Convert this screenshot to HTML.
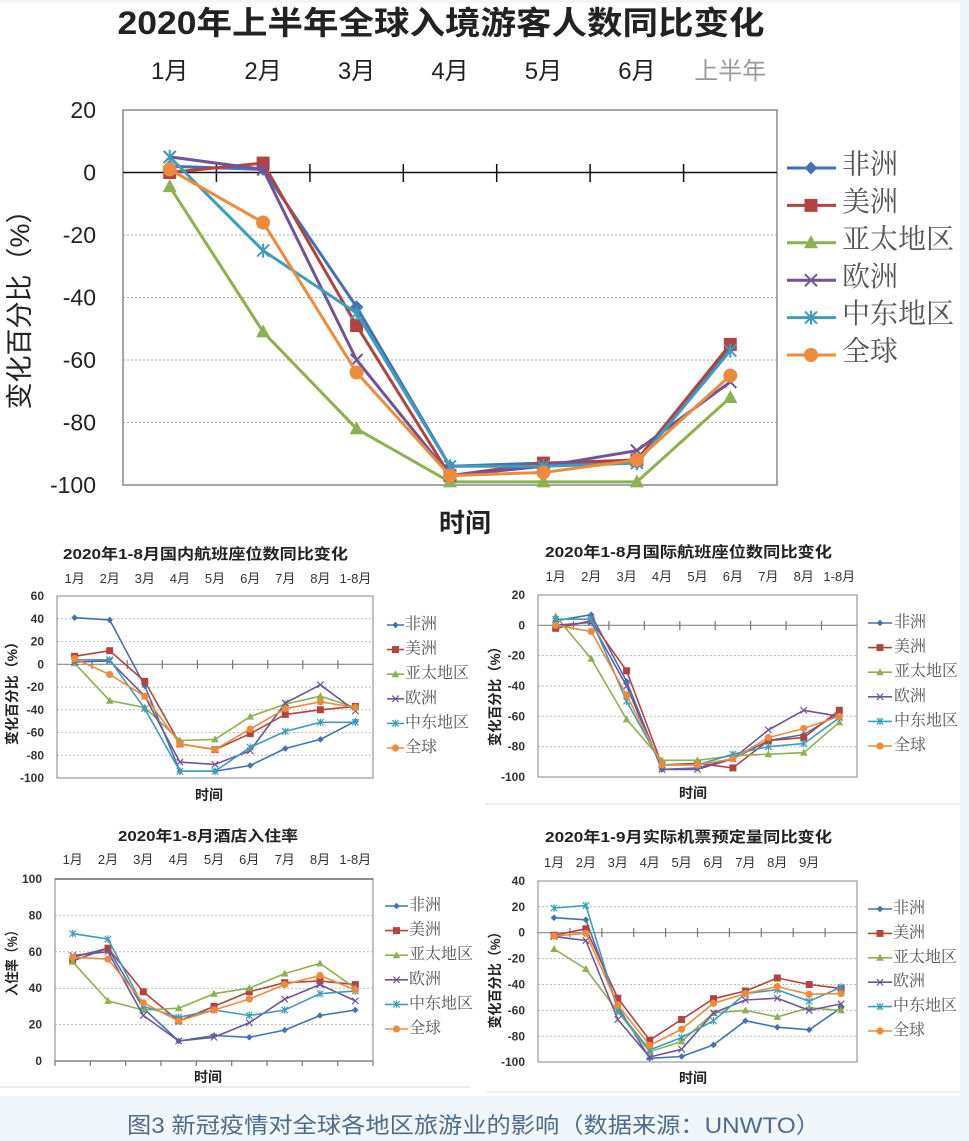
<!DOCTYPE html>
<html><head><meta charset="utf-8">
<style>
html,body{margin:0;padding:0;background:#f1f6fa;}
body{width:969px;height:1141px;overflow:hidden;position:relative;}
svg{position:absolute;left:0;top:0;}
.t{font-family:"Liberation Sans","Noto Sans CJK SC",sans-serif;fill:#222;}
.b{font-weight:bold;}
.sr{font-family:"Liberation Serif","Noto Serif CJK SC",serif;fill:#555;}
.L{fill:none;stroke-width:3;stroke-linejoin:round;}
.l{fill:none;stroke-width:1.6;stroke-linejoin:round;}
.c1{stroke:#4472b0}.c2{stroke:#b3433f}.c3{stroke:#8db050}.c4{stroke:#6f5598}.c5{stroke:#3f9cbd}.c6{stroke:#ec8b3c}
.B1{marker:url(#mb1)}.B2{marker:url(#mb2)}.B3{marker:url(#mb3)}.B4{marker:url(#mb4)}.B5{marker:url(#mb5)}.B6{marker:url(#mb6)}
.S1{marker:url(#ms1)}.S2{marker:url(#ms2)}.S3{marker:url(#ms3)}.S4{marker:url(#ms4)}.S5{marker:url(#ms5)}.S6{marker:url(#ms6)}
.g{stroke:#aaa;stroke-width:1;stroke-dasharray:2 2;}
.gs{stroke:#bbb;stroke-width:1;stroke-dasharray:2 2;}
.box{fill:none;stroke:#8a8a8a;stroke-width:1.5;}
.bx{fill:none;stroke:#999;stroke-width:1.2;}
.yl{font-family:"Liberation Sans",sans-serif;font-size:12px;font-weight:bold;fill:#333;text-anchor:end;}
.ml{font-family:"Liberation Sans","Noto Sans CJK SC",sans-serif;font-size:13px;fill:#333;text-anchor:middle;}
</style></head>
<body>
<svg width="969" height="1141" viewBox="0 0 969 1141" xmlns="http://www.w3.org/2000/svg">
<defs>
<marker id="mb1" markerUnits="userSpaceOnUse" markerWidth="20" markerHeight="20" viewBox="-10 -10 20 20" refX="0" refY="0" style="overflow:visible"><path d="M0 -6.5L6.5 0L0 6.5L-6.5 0Z" fill="#4472b0"/></marker>
<marker id="mb2" markerUnits="userSpaceOnUse" markerWidth="20" markerHeight="20" viewBox="-10 -10 20 20" refX="0" refY="0" style="overflow:visible"><rect x="-6.5" y="-6.5" width="13" height="13" fill="#b3433f"/></marker>
<marker id="mb3" markerUnits="userSpaceOnUse" markerWidth="20" markerHeight="20" viewBox="-10 -10 20 20" refX="0" refY="0" style="overflow:visible"><path d="M0 -7.5L7 5.5L-7 5.5Z" fill="#8db050"/></marker>
<marker id="mb4" markerUnits="userSpaceOnUse" markerWidth="20" markerHeight="20" viewBox="-10 -10 20 20" refX="0" refY="0" style="overflow:visible"><path d="M-6 -6L6 6M-6 6L6 -6" stroke="#6f5598" stroke-width="2"/></marker>
<marker id="mb5" markerUnits="userSpaceOnUse" markerWidth="20" markerHeight="20" viewBox="-10 -10 20 20" refX="0" refY="0" style="overflow:visible"><path d="M-6 -6L6 6M-6 6L6 -6M0 -7L0 7" stroke="#3f9cbd" stroke-width="2"/></marker>
<marker id="mb6" markerUnits="userSpaceOnUse" markerWidth="20" markerHeight="20" viewBox="-10 -10 20 20" refX="0" refY="0" style="overflow:visible"><circle r="7" fill="#ec8b3c"/></marker>
<marker id="ms1" markerUnits="userSpaceOnUse" markerWidth="10" markerHeight="10" viewBox="-5 -5 10 10" refX="0" refY="0" style="overflow:visible"><path d="M0 -3.3L3.3 0L0 3.3L-3.3 0Z" fill="#4472b0"/></marker>
<marker id="ms2" markerUnits="userSpaceOnUse" markerWidth="10" markerHeight="10" viewBox="-5 -5 10 10" refX="0" refY="0" style="overflow:visible"><rect x="-3.5" y="-3.5" width="7" height="7" fill="#b3433f"/></marker>
<marker id="ms3" markerUnits="userSpaceOnUse" markerWidth="10" markerHeight="10" viewBox="-5 -5 10 10" refX="0" refY="0" style="overflow:visible"><path d="M0 -4L3.8 3L-3.8 3Z" fill="#8db050"/></marker>
<marker id="ms4" markerUnits="userSpaceOnUse" markerWidth="10" markerHeight="10" viewBox="-5 -5 10 10" refX="0" refY="0" style="overflow:visible"><path d="M-3.2 -3.2L3.2 3.2M-3.2 3.2L3.2 -3.2" stroke="#6f5598" stroke-width="1.2"/></marker>
<marker id="ms5" markerUnits="userSpaceOnUse" markerWidth="10" markerHeight="10" viewBox="-5 -5 10 10" refX="0" refY="0" style="overflow:visible"><path d="M-3.2 -3.2L3.2 3.2M-3.2 3.2L3.2 -3.2M0 -3.8L0 3.8" stroke="#3f9cbd" stroke-width="1.2"/></marker>
<marker id="ms6" markerUnits="userSpaceOnUse" markerWidth="10" markerHeight="10" viewBox="-5 -5 10 10" refX="0" refY="0" style="overflow:visible"><circle r="3.6" fill="#ec8b3c"/></marker>
</defs>

<!-- backgrounds -->
<rect x="0" y="0" width="969" height="1141" fill="#f1f6fa"/>
<rect x="0" y="3" width="960" height="1093" fill="#ffffff"/>
<line x1="485" y1="804" x2="960" y2="804" stroke="#e6e6e6" stroke-width="1.5"/>
<line x1="0" y1="1087" x2="470" y2="1087" stroke="#e6e6e6" stroke-width="1.5"/>
<line x1="487" y1="1092" x2="960" y2="1092" stroke="#e6e6e6" stroke-width="1.5"/>

<!-- ===== TOP CHART ===== -->
<text class="t b" x="441" y="34" font-size="32" text-anchor="middle" textLength="647" lengthAdjust="spacingAndGlyphs">2020年上半年全球入境游客人数同比变化</text>
<g class="t" font-size="24" text-anchor="middle" fill="#222">
<text x="169.7" y="79">1月</text><text x="263.1" y="79">2月</text><text x="356.6" y="79">3月</text><text x="450" y="79">4月</text><text x="543.4" y="79">5月</text><text x="636.9" y="79">6月</text><text x="730.3" y="79" style="fill:#9a9a9a">上半年</text>
</g>
<line class="g" x1="123" y1="235" x2="777" y2="235"/>
<line class="g" x1="123" y1="297.5" x2="777" y2="297.5"/>
<line class="g" x1="123" y1="360" x2="777" y2="360"/>
<line class="g" x1="123" y1="422.5" x2="777" y2="422.5"/>
<rect class="box" x="123" y="110" width="654" height="375"/>
<line x1="123" y1="172.5" x2="777" y2="172.5" stroke="#111" stroke-width="1.5"/>
<path d="M216.4 164V182M309.9 164V182M403.3 164V182M496.7 164V182M590.1 164V182M683.6 164V182" stroke="#111" stroke-width="1.5"/>
<g font-family="Liberation Sans,sans-serif" font-size="23" fill="#222" text-anchor="end">
<text x="96" y="118">20</text><text x="96" y="180.5">0</text><text x="96" y="243">-20</text><text x="96" y="305.5">-40</text><text x="96" y="368">-60</text><text x="96" y="430.5">-80</text><text x="96" y="493">-100</text>
</g>
<text class="t" x="20" y="303" font-size="27" text-anchor="middle" transform="rotate(-90 20 303)" dy="9" textLength="213" lengthAdjust="spacingAndGlyphs">变化百分比（%）</text>
<text class="t b" x="465" y="532" font-size="26" text-anchor="middle">时间</text>

<polyline class="L c1 B1" points="169.7,166.3 263.1,169.4 356.6,306.9 450,466.3 543.4,463.1 636.9,463.1 730.3,347.5"/>
<polyline class="L c2 B2" points="169.7,172.5 263.1,163.1 356.6,325.6 450,475.6 543.4,463.1 636.9,460 730.3,344.4"/>
<polyline class="L c3 B3" points="169.7,186.6 263.1,331.9 356.6,428.8 450,481.9 543.4,481.9 636.9,481.9 730.3,397.5"/>
<polyline class="L c4 B4" points="169.7,156.9 263.1,169.4 356.6,360 450,475.6 543.4,466.3 636.9,450.6 730.3,381.9"/>
<polyline class="L c5 B5" points="169.7,156.9 263.1,250.6 356.6,313.1 450,466.3 543.4,466.3 636.9,463.1 730.3,350.6"/>
<polyline class="L c6 B6" points="169.7,169.4 263.1,222.5 356.6,372.5 450,475.6 543.4,472.5 636.9,460 730.3,375.6"/>

<polyline class="L c1" style="marker-mid:url(#mb1)" points="787,168 811,168 836,168"/>
<polyline class="L c2" style="marker-mid:url(#mb2)" points="787,205.4 811,205.4 836,205.4"/>
<polyline class="L c3" style="marker-mid:url(#mb3)" points="787,242.8 811,242.8 836,242.8"/>
<polyline class="L c4" style="marker-mid:url(#mb4)" points="787,280.2 811,280.2 836,280.2"/>
<polyline class="L c5" style="marker-mid:url(#mb5)" points="787,317.6 811,317.6 836,317.6"/>
<polyline class="L c6" style="marker-mid:url(#mb6)" points="787,355 811,355 836,355"/>
<g class="sr" font-size="28">
<text x="842" y="173.6">非洲</text><text x="842" y="211">美洲</text><text x="842" y="248.4">亚太地区</text><text x="842" y="285.8">欧洲</text><text x="842" y="323.2">中东地区</text><text x="842" y="360.6">全球</text>
</g>

<!-- ===== CHART A ===== -->
<text class="t b" x="205.5" y="559" font-size="15" text-anchor="middle" textLength="285" lengthAdjust="spacingAndGlyphs">2020年1-8月国内航班座位数同比变化</text>
<g class="ml">
<text x="74.6" y="583">1月</text><text x="109.7" y="583">2月</text><text x="144.8" y="583">3月</text><text x="179.9" y="583">4月</text><text x="215" y="583">5月</text><text x="250.2" y="583">6月</text><text x="285.3" y="583">7月</text><text x="320.4" y="583">8月</text><text x="355.5" y="583">1-8月</text>
</g>
<line class="gs" x1="57" y1="618.8" x2="373" y2="618.8"/>
<line class="gs" x1="57" y1="641.6" x2="373" y2="641.6"/>
<line class="gs" x1="57" y1="687.1" x2="373" y2="687.1"/>
<line class="gs" x1="57" y1="709.8" x2="373" y2="709.8"/>
<line class="gs" x1="57" y1="732.6" x2="373" y2="732.6"/>
<line class="gs" x1="57" y1="755.3" x2="373" y2="755.3"/>
<rect class="bx" x="57" y="596" width="316" height="182"/>
<line x1="57" y1="664.3" x2="373" y2="664.3" stroke="#888" stroke-width="1.2"/>
<path d="M92.1 660V669M127.2 660V669M162.3 660V669M197.4 660V669M232.6 660V669M267.7 660V669M302.8 660V669M337.9 660V669" stroke="#777" stroke-width="1.2"/>
<g class="yl">
<text x="44" y="600">60</text><text x="44" y="622.8">40</text><text x="44" y="645.6">20</text><text x="44" y="668.3">0</text><text x="44" y="691.1">-20</text><text x="44" y="713.8">-40</text><text x="44" y="736.6">-60</text><text x="44" y="759.3">-80</text><text x="44" y="782">-100</text>
</g>
<text class="t b" x="12" y="690" font-size="14" text-anchor="middle" dy="5" transform="rotate(-90 12 690)" textLength="110" lengthAdjust="spacingAndGlyphs">变化百分比（%）</text>
<text class="t b" x="209" y="800" font-size="14" text-anchor="middle">时间</text>
<polyline class="l c1 S1" points="74.6,617.7 109.7,619.9 144.8,685.9 179.9,771.2 215,771.2 250.2,765.5 285.3,748.5 320.4,739.4 355.5,721.2"/>
<polyline class="l c2 S2" points="74.6,656.3 109.7,650.7 144.8,681.4 179.9,743.9 215,749.6 250.2,733.7 285.3,714.4 320.4,709.8 355.5,706.4"/>
<polyline class="l c3 S3" points="74.6,663.2 109.7,700.7 144.8,707.5 179.9,740.5 215,739.4 250.2,716.6 285.3,704.1 320.4,696.2 355.5,707.5"/>
<polyline class="l c4 S4" points="74.6,662 109.7,660.9 144.8,696.2 179.9,762.1 215,764.4 250.2,750.8 285.3,703 320.4,684.8 355.5,711"/>
<polyline class="l c5 S5" points="74.6,659.8 109.7,659.8 144.8,708.7 179.9,771.2 215,771.2 250.2,747.3 285.3,731.4 320.4,722.3 355.5,722.3"/>
<polyline class="l c6 S6" points="74.6,658.6 109.7,674.5 144.8,696.2 179.9,743.9 215,749.6 250.2,729.1 285.3,708.7 320.4,701.8 355.5,707.5"/>
<polyline class="l c1" style="marker-mid:url(#ms1)" points="387,625 395.5,625 404,625"/>
<polyline class="l c2" style="marker-mid:url(#ms2)" points="387,649.6 395.5,649.6 404,649.6"/>
<polyline class="l c3" style="marker-mid:url(#ms3)" points="387,674.2 395.5,674.2 404,674.2"/>
<polyline class="l c4" style="marker-mid:url(#ms4)" points="387,698.8 395.5,698.8 404,698.8"/>
<polyline class="l c5" style="marker-mid:url(#ms5)" points="387,723.4 395.5,723.4 404,723.4"/>
<polyline class="l c6" style="marker-mid:url(#ms6)" points="387,748 395.5,748 404,748"/>
<g class="sr" font-size="16">
<text x="405" y="629">非洲</text><text x="405" y="653.6">美洲</text><text x="405" y="678.2">亚太地区</text><text x="405" y="702.8">欧洲</text><text x="405" y="727.4">中东地区</text><text x="405" y="752">全球</text>
</g>

<!-- ===== CHART B ===== -->
<text class="t b" x="688.5" y="557" font-size="15" text-anchor="middle" textLength="287" lengthAdjust="spacingAndGlyphs">2020年1-8月国际航班座位数同比变化</text>
<g class="ml">
<text x="555.7" y="581">1月</text><text x="591.2" y="581">2月</text><text x="626.6" y="581">3月</text><text x="662" y="581">4月</text><text x="697.5" y="581">5月</text><text x="732.9" y="581">6月</text><text x="768.4" y="581">7月</text><text x="803.8" y="581">8月</text><text x="839.3" y="581">1-8月</text>
</g>
<line class="gs" x1="538" y1="655.6" x2="857" y2="655.6"/>
<line class="gs" x1="538" y1="686" x2="857" y2="686"/>
<line class="gs" x1="538" y1="716.3" x2="857" y2="716.3"/>
<line class="gs" x1="538" y1="746.7" x2="857" y2="746.7"/>
<rect class="bx" x="538" y="595" width="319" height="182"/>
<line x1="538" y1="625.3" x2="857" y2="625.3" stroke="#888" stroke-width="1.2"/>
<path d="M573.4 621V630M608.9 621V630M644.3 621V630M679.8 621V630M715.2 621V630M750.6 621V630M786.1 621V630M821.5 621V630" stroke="#777" stroke-width="1.2"/>
<g class="yl">
<text x="525" y="599">20</text><text x="525" y="629.3">0</text><text x="525" y="659.6">-20</text><text x="525" y="690">-40</text><text x="525" y="720.3">-60</text><text x="525" y="750.7">-80</text><text x="525" y="781">-100</text>
</g>
<text class="t b" x="495" y="693" font-size="14" text-anchor="middle" dy="5" transform="rotate(-90 495 693)" textLength="106" lengthAdjust="spacingAndGlyphs">变化百分比（%）</text>
<text class="t b" x="693" y="798" font-size="14" text-anchor="middle">时间</text>
<polyline class="l c1 S1" points="555.7,620.8 591.2,614.7 626.6,681.4 662,769.4 697.5,767.9 732.9,758.8 768.4,740.6 803.8,734.5 839.3,713.3"/>
<polyline class="l c2 S2" points="555.7,628.3 591.2,620.8 626.6,670.8 662,764.9 697.5,763.3 732.9,767.9 768.4,740.6 803.8,737.6 839.3,710.3"/>
<polyline class="l c3 S3" points="555.7,616.2 591.2,658.7 626.6,719.4 662,760.3 697.5,760.3 732.9,755.8 768.4,754.2 803.8,752.7 839.3,722.4"/>
<polyline class="l c4 S4" points="555.7,625.3 591.2,622.3 626.6,686 662,769.4 697.5,769.4 732.9,758.8 768.4,730 803.8,710.3 839.3,716.3"/>
<polyline class="l c5 S5" points="555.7,619.2 591.2,619.2 626.6,701.2 662,764.9 697.5,764.9 732.9,754.2 768.4,746.7 803.8,743.6 839.3,717.8"/>
<polyline class="l c6 S6" points="555.7,625.3 591.2,631.4 626.6,695.1 662,764.9 697.5,764.9 732.9,758.8 768.4,737.6 803.8,728.5 839.3,716.3"/>
<polyline class="l c1" style="marker-mid:url(#ms1)" points="868,623 880,623 892,623"/>
<polyline class="l c2" style="marker-mid:url(#ms2)" points="868,647.6 880,647.6 892,647.6"/>
<polyline class="l c3" style="marker-mid:url(#ms3)" points="868,672.2 880,672.2 892,672.2"/>
<polyline class="l c4" style="marker-mid:url(#ms4)" points="868,696.8 880,696.8 892,696.8"/>
<polyline class="l c5" style="marker-mid:url(#ms5)" points="868,721.4 880,721.4 892,721.4"/>
<polyline class="l c6" style="marker-mid:url(#ms6)" points="868,746 880,746 892,746"/>
<g class="sr" font-size="16">
<text x="894" y="627">非洲</text><text x="894" y="651.6">美洲</text><text x="894" y="676.2">亚太地区</text><text x="894" y="700.8">欧洲</text><text x="894" y="725.4">中东地区</text><text x="894" y="750">全球</text>
</g>

<!-- ===== CHART C ===== -->
<text class="t b" x="208" y="841" font-size="15" text-anchor="middle" textLength="180" lengthAdjust="spacingAndGlyphs">2020年1-8月酒店入住率</text>
<g class="ml">
<text x="72.7" y="864">1月</text><text x="108" y="864">2月</text><text x="143.3" y="864">3月</text><text x="178.7" y="864">4月</text><text x="214" y="864">5月</text><text x="249.3" y="864">6月</text><text x="284.7" y="864">7月</text><text x="320" y="864">8月</text><text x="355.3" y="864">1-8月</text>
</g>
<line class="gs" x1="55" y1="915.4" x2="373" y2="915.4"/>
<line class="gs" x1="55" y1="951.8" x2="373" y2="951.8"/>
<line class="gs" x1="55" y1="988.2" x2="373" y2="988.2"/>
<line class="gs" x1="55" y1="1024.6" x2="373" y2="1024.6"/>
<rect class="bx" x="55" y="879" width="318" height="182"/>
<line x1="55" y1="879" x2="373" y2="879" stroke="#555" stroke-width="1.3"/>
<line x1="55" y1="1061" x2="373" y2="1061" stroke="#777" stroke-width="1.3"/>
<path d="M55 1061V1066M90.3 1061V1066M125.7 1061V1066M161 1061V1066M196.3 1061V1066M231.7 1061V1066M267 1061V1066M302.3 1061V1066M337.7 1061V1066M373 1061V1066" stroke="#777" stroke-width="1.2"/>
<g class="yl">
<text x="42" y="883">100</text><text x="42" y="919.4">80</text><text x="42" y="955.8">60</text><text x="42" y="992.2">40</text><text x="42" y="1028.6">20</text><text x="42" y="1065">0</text>
</g>
<text class="t b" x="12" y="960" font-size="14" text-anchor="middle" dy="5" transform="rotate(-90 12 960)" textLength="72" lengthAdjust="spacingAndGlyphs">入住率（%）</text>
<text class="t b" x="208" y="1082" font-size="14" text-anchor="middle">时间</text>
<polyline class="l c1 S1" points="72.7,957.3 108,948.2 143.3,1008.2 178.7,1041 214,1035.5 249.3,1037.3 284.7,1030.1 320,1015.5 355.3,1010"/>
<polyline class="l c2 S2" points="72.7,960.9 108,948.2 143.3,991.8 178.7,1021 214,1006.4 249.3,991.8 284.7,982.7 320,980.9 355.3,984.6"/>
<polyline class="l c3 S3" points="72.7,961.8 108,1000.9 143.3,1010 178.7,1008.2 214,993.7 249.3,988.2 284.7,973.6 320,963.4 355.3,988.2"/>
<polyline class="l c4 S4" points="72.7,955.4 108,951.8 143.3,1015.5 178.7,1041 214,1037.3 249.3,1022.8 284.7,999.1 320,984.6 355.3,1000.9"/>
<polyline class="l c5 S5" points="72.7,933.6 108,939.1 143.3,1006.4 178.7,1017.3 214,1010 249.3,1015.5 284.7,1010 320,993.7 355.3,990.9"/>
<polyline class="l c6 S6" points="72.7,957.3 108,959.1 143.3,1002.8 178.7,1021 214,1010 249.3,999.1 284.7,984.6 320,975.5 355.3,990"/>
<polyline class="l c1" style="marker-mid:url(#ms1)" points="385,906 396.5,906 408,906"/>
<polyline class="l c2" style="marker-mid:url(#ms2)" points="385,930.6 396.5,930.6 408,930.6"/>
<polyline class="l c3" style="marker-mid:url(#ms3)" points="385,955.2 396.5,955.2 408,955.2"/>
<polyline class="l c4" style="marker-mid:url(#ms4)" points="385,979.8 396.5,979.8 408,979.8"/>
<polyline class="l c5" style="marker-mid:url(#ms5)" points="385,1004.4 396.5,1004.4 408,1004.4"/>
<polyline class="l c6" style="marker-mid:url(#ms6)" points="385,1029 396.5,1029 408,1029"/>
<g class="sr" font-size="16">
<text x="409" y="910">非洲</text><text x="409" y="934.6">美洲</text><text x="409" y="959.2">亚太地区</text><text x="409" y="983.8">欧洲</text><text x="409" y="1008.4">中东地区</text><text x="409" y="1033">全球</text>
</g>

<!-- ===== CHART D ===== -->
<text class="t b" x="688.5" y="842" font-size="15" text-anchor="middle" textLength="287" lengthAdjust="spacingAndGlyphs">2020年1-9月实际机票预定量同比变化</text>
<g class="ml">
<text x="554" y="867">1月</text><text x="585.9" y="867">2月</text><text x="617.8" y="867">3月</text><text x="649.7" y="867">4月</text><text x="681.6" y="867">5月</text><text x="713.5" y="867">6月</text><text x="745.4" y="867">7月</text><text x="777.3" y="867">8月</text><text x="809.2" y="867">9月</text>
</g>
<line class="gs" x1="538" y1="906.8" x2="857" y2="906.8"/>
<line class="gs" x1="538" y1="958.6" x2="857" y2="958.6"/>
<line class="gs" x1="538" y1="984.5" x2="857" y2="984.5"/>
<line class="gs" x1="538" y1="1010.4" x2="857" y2="1010.4"/>
<line class="gs" x1="538" y1="1036.3" x2="857" y2="1036.3"/>
<rect class="bx" x="538" y="881" width="319" height="181"/>
<line x1="538" y1="932.7" x2="857" y2="932.7" stroke="#888" stroke-width="1.2"/>
<path d="M569.9 928V937M601.8 928V937M633.7 928V937M665.6 928V937M697.5 928V937M729.4 928V937M761.3 928V937M793.2 928V937M825.1 928V937" stroke="#777" stroke-width="1.2"/>
<g class="yl">
<text x="525" y="885">40</text><text x="525" y="910.8">20</text><text x="525" y="936.7">0</text><text x="525" y="962.6">-20</text><text x="525" y="988.5">-40</text><text x="525" y="1014.4">-60</text><text x="525" y="1040.3">-80</text><text x="525" y="1066">-100</text>
</g>
<text class="t b" x="495" y="977" font-size="14" text-anchor="middle" dy="5" transform="rotate(-90 495 977)" textLength="103" lengthAdjust="spacingAndGlyphs">变化百分比（%）</text>
<text class="t b" x="693" y="1083" font-size="14" text-anchor="middle">时间</text>
<polyline class="l c1 S1" points="554,917.7 585.9,919.8 617.8,1006.5 649.7,1058.3 681.6,1056.5 713.5,1044.9 745.4,1020.8 777.3,1027.2 809.2,1029.8 841.1,1007.8"/>
<polyline class="l c2 S2" points="554,935.3 585.9,928.8 617.8,998.2 649.7,1040.2 681.6,1019.5 713.5,998.7 745.4,991 777.3,978 809.2,984.5 841.1,988.4"/>
<polyline class="l c3 S3" points="554,949 585.9,969 617.8,1011.7 649.7,1051.8 681.6,1041.5 713.5,1013 745.4,1010.4 777.3,1016.9 809.2,1007.8 841.1,1010.4"/>
<polyline class="l c4 S4" points="554,936.6 585.9,940.5 617.8,1019.5 649.7,1057 681.6,1049.3 713.5,1013 745.4,1000 777.3,998.2 809.2,1010.4 841.1,1003.9"/>
<polyline class="l c5 S5" points="554,908.1 585.9,905.5 617.8,1010.4 649.7,1049.9 681.6,1037.6 713.5,1020.8 745.4,993.6 777.3,989.7 809.2,1001.3 841.1,987.1"/>
<polyline class="l c6 S6" points="554,936.1 585.9,933.3 617.8,1005.2 649.7,1045.4 681.6,1029.2 713.5,1003.3 745.4,993.6 777.3,986.6 809.2,994.3 841.1,993.6"/>
<polyline class="l c1" style="marker-mid:url(#ms1)" points="868,909 880,909 892,909"/>
<polyline class="l c2" style="marker-mid:url(#ms2)" points="868,933.4 880,933.4 892,933.4"/>
<polyline class="l c3" style="marker-mid:url(#ms3)" points="868,957.8 880,957.8 892,957.8"/>
<polyline class="l c4" style="marker-mid:url(#ms4)" points="868,982.2 880,982.2 892,982.2"/>
<polyline class="l c5" style="marker-mid:url(#ms5)" points="868,1006.6 880,1006.6 892,1006.6"/>
<polyline class="l c6" style="marker-mid:url(#ms6)" points="868,1031 880,1031 892,1031"/>
<g class="sr" font-size="16">
<text x="893" y="913">非洲</text><text x="893" y="937.4">美洲</text><text x="893" y="961.8">亚太地区</text><text x="893" y="986.2">欧洲</text><text x="893" y="1010.6">中东地区</text><text x="893" y="1035">全球</text>
</g>

<!-- caption -->
<text x="473.5" y="1133" font-family="Liberation Sans,Noto Sans CJK SC,sans-serif" font-size="22" fill="#4d6b8c" text-anchor="middle" textLength="693" lengthAdjust="spacingAndGlyphs">图3 新冠疫情对全球各地区旅游业的影响（数据来源：UNWTO）</text>
</svg>
</body></html>
